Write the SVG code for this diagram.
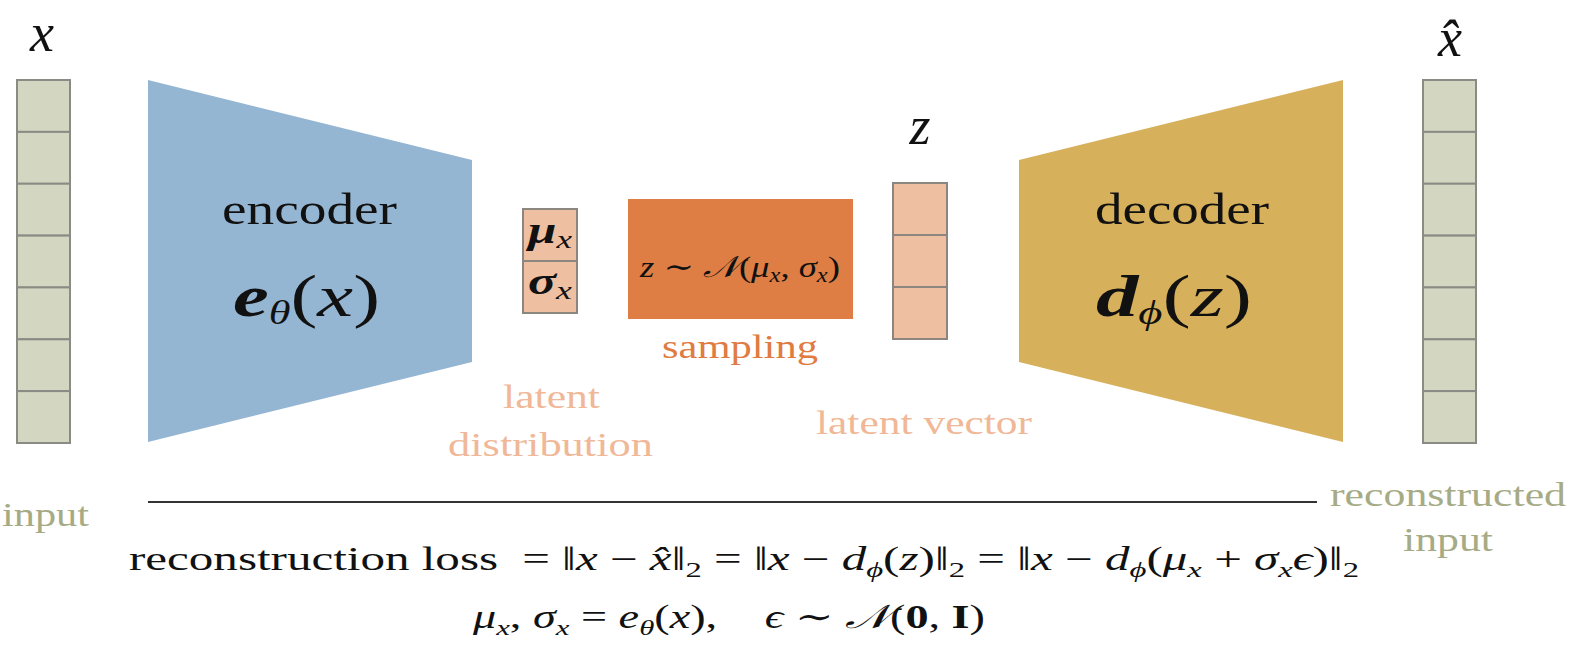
<svg xmlns="http://www.w3.org/2000/svg" width="1579" height="654" viewBox="0 0 1579 654">
<style>
text{font-family:"Liberation Serif","DejaVu Serif",serif;fill:#111}
.i{font-style:italic}
.b{font-weight:bold}
.cell{fill:#d3d6c0;stroke:#8b8b85;stroke-width:2}
.lat{fill:#efbfa1;stroke:#8b8680;stroke-width:2}
.lbl{font-size:34px}
.green{fill:#a6ab86}
.peach{fill:#f0b897}
.orange{fill:#e07b42}
</style>
<rect width="1579" height="654" fill="#ffffff"/>

<g id="input">
  <text class="i" x="42" y="51" font-size="54" text-anchor="middle">x</text>
  <rect class="cell" x="17" y="80" width="53" height="51.9"/>
  <rect class="cell" x="17" y="131.9" width="53" height="51.9"/>
  <rect class="cell" x="17" y="183.7" width="53" height="51.9"/>
  <rect class="cell" x="17" y="235.6" width="53" height="51.9"/>
  <rect class="cell" x="17" y="287.4" width="53" height="51.9"/>
  <rect class="cell" x="17" y="339.3" width="53" height="51.9"/>
  <rect class="cell" x="17" y="391.1" width="53" height="51.9"/>
  <text class="lbl green" x="2" y="526" textLength="87" lengthAdjust="spacingAndGlyphs">input</text>
</g>

<g id="encoder">
  <polygon points="148,80 472,160 472,362 148,442" fill="#95b6d3"/>
  <text x="222" y="224" font-size="45" textLength="175" lengthAdjust="spacingAndGlyphs">encoder</text>
  <text x="233" y="316" font-size="60" textLength="147" lengthAdjust="spacingAndGlyphs"><tspan class="i b">e</tspan><tspan class="i" font-size="33" dy="8">θ</tspan><tspan dy="-8">(</tspan><tspan class="i">x</tspan>)</text>
</g>

<g id="latent-distribution">
  <rect class="lat" x="523" y="209" width="54" height="52"/>
  <rect class="lat" x="523" y="261" width="54" height="52"/>
  <text x="528" y="243" font-size="38" textLength="44" lengthAdjust="spacingAndGlyphs"><tspan class="i b">μ</tspan><tspan class="i" font-size="26" dy="5">x</tspan></text>
  <text x="528" y="294" font-size="38" textLength="44" lengthAdjust="spacingAndGlyphs"><tspan class="i b">σ</tspan><tspan class="i" font-size="26" dy="5">x</tspan></text>
  <text class="lbl peach" x="503" y="408" textLength="97" lengthAdjust="spacingAndGlyphs">latent</text>
  <text class="lbl peach" x="448" y="456" textLength="205" lengthAdjust="spacingAndGlyphs">distribution</text>
</g>

<g id="sampling">
  <rect x="628" y="199" width="225" height="120" fill="#de7e45"/>
  <text x="640" y="277" font-size="30" textLength="200" lengthAdjust="spacingAndGlyphs"><tspan class="i">z</tspan> ∼ <tspan class="i">𝒩</tspan>(<tspan class="i">μ</tspan><tspan class="i" font-size="20" dy="5">x</tspan><tspan dy="-5">, </tspan><tspan class="i">σ</tspan><tspan class="i" font-size="20" dy="5">x</tspan><tspan dy="-5">)</tspan></text>
  <text class="lbl orange" x="662" y="358" textLength="156" lengthAdjust="spacingAndGlyphs">sampling</text>
</g>

<g id="latent-vector">
  <text class="i" x="920" y="144" font-size="54" text-anchor="middle">z</text>
  <rect class="lat" x="893" y="183" width="54" height="52"/>
  <rect class="lat" x="893" y="235" width="54" height="52"/>
  <rect class="lat" x="893" y="287" width="54" height="52"/>
  <text class="lbl peach" x="816" y="434" textLength="216" lengthAdjust="spacingAndGlyphs">latent vector</text>
</g>

<g id="decoder">
  <polygon points="1019,160 1343,80 1343,442 1019,362" fill="#d7b05b"/>
  <text x="1095" y="224" font-size="45" textLength="174" lengthAdjust="spacingAndGlyphs">decoder</text>
  <text x="1096" y="316" font-size="60" textLength="156" lengthAdjust="spacingAndGlyphs"><tspan class="i b">d</tspan><tspan class="i" font-size="33" dy="8">ϕ</tspan><tspan dy="-8">(</tspan><tspan class="i">z</tspan>)</text>
</g>

<g id="output">
  <text class="i" x="1450" y="56" font-size="54" text-anchor="middle">x̂</text>
  <rect class="cell" x="1423" y="80" width="53" height="51.9"/>
  <rect class="cell" x="1423" y="131.9" width="53" height="51.9"/>
  <rect class="cell" x="1423" y="183.7" width="53" height="51.9"/>
  <rect class="cell" x="1423" y="235.6" width="53" height="51.9"/>
  <rect class="cell" x="1423" y="287.4" width="53" height="51.9"/>
  <rect class="cell" x="1423" y="339.3" width="53" height="51.9"/>
  <rect class="cell" x="1423" y="391.1" width="53" height="51.9"/>
  <text class="lbl green" x="1330" y="506" textLength="236" lengthAdjust="spacingAndGlyphs">reconstructed</text>
  <text class="lbl green" x="1403" y="551" textLength="90" lengthAdjust="spacingAndGlyphs">input</text>
</g>

<g id="connectors">
  <line x1="148" y1="502" x2="1317" y2="502" stroke="#333" stroke-width="2"/>
</g>

<g id="loss">
  <text x="129" y="570" font-size="33" textLength="1230" lengthAdjust="spacingAndGlyphs">reconstruction loss <tspan dx="8">= ‖</tspan><tspan class="i">x</tspan> − <tspan class="i">x̂</tspan>‖<tspan font-size="22" dy="7">2</tspan><tspan dy="-7"> = ‖</tspan><tspan class="i">x</tspan> − <tspan class="i">d</tspan><tspan class="i" font-size="22" dy="7">ϕ</tspan><tspan dy="-7">(</tspan><tspan class="i">z</tspan>)‖<tspan font-size="22" dy="7">2</tspan><tspan dy="-7"> = ‖</tspan><tspan class="i">x</tspan> − <tspan class="i">d</tspan><tspan class="i" font-size="22" dy="7">ϕ</tspan><tspan dy="-7">(</tspan><tspan class="i">μ</tspan><tspan class="i" font-size="22" dy="7">x</tspan><tspan dy="-7"> + </tspan><tspan class="i">σ</tspan><tspan class="i" font-size="22" dy="7">x</tspan><tspan class="i" dy="-7">ϵ</tspan>)‖<tspan font-size="22" dy="7">2</tspan></text>
  <text x="473" y="628" font-size="33" textLength="512" lengthAdjust="spacingAndGlyphs"><tspan class="i">μ</tspan><tspan class="i" font-size="22" dy="7">x</tspan><tspan dy="-7">, </tspan><tspan class="i">σ</tspan><tspan class="i" font-size="22" dy="7">x</tspan><tspan dy="-7"> = </tspan><tspan class="i">e</tspan><tspan class="i" font-size="22" dy="7">θ</tspan><tspan dy="-7">(</tspan><tspan class="i">x</tspan>),<tspan dx="34" class="i">ϵ</tspan> ∼ <tspan class="i">𝒩</tspan>(<tspan class="b">0</tspan>, <tspan class="b">I</tspan>)</text>
</g>
</svg>
